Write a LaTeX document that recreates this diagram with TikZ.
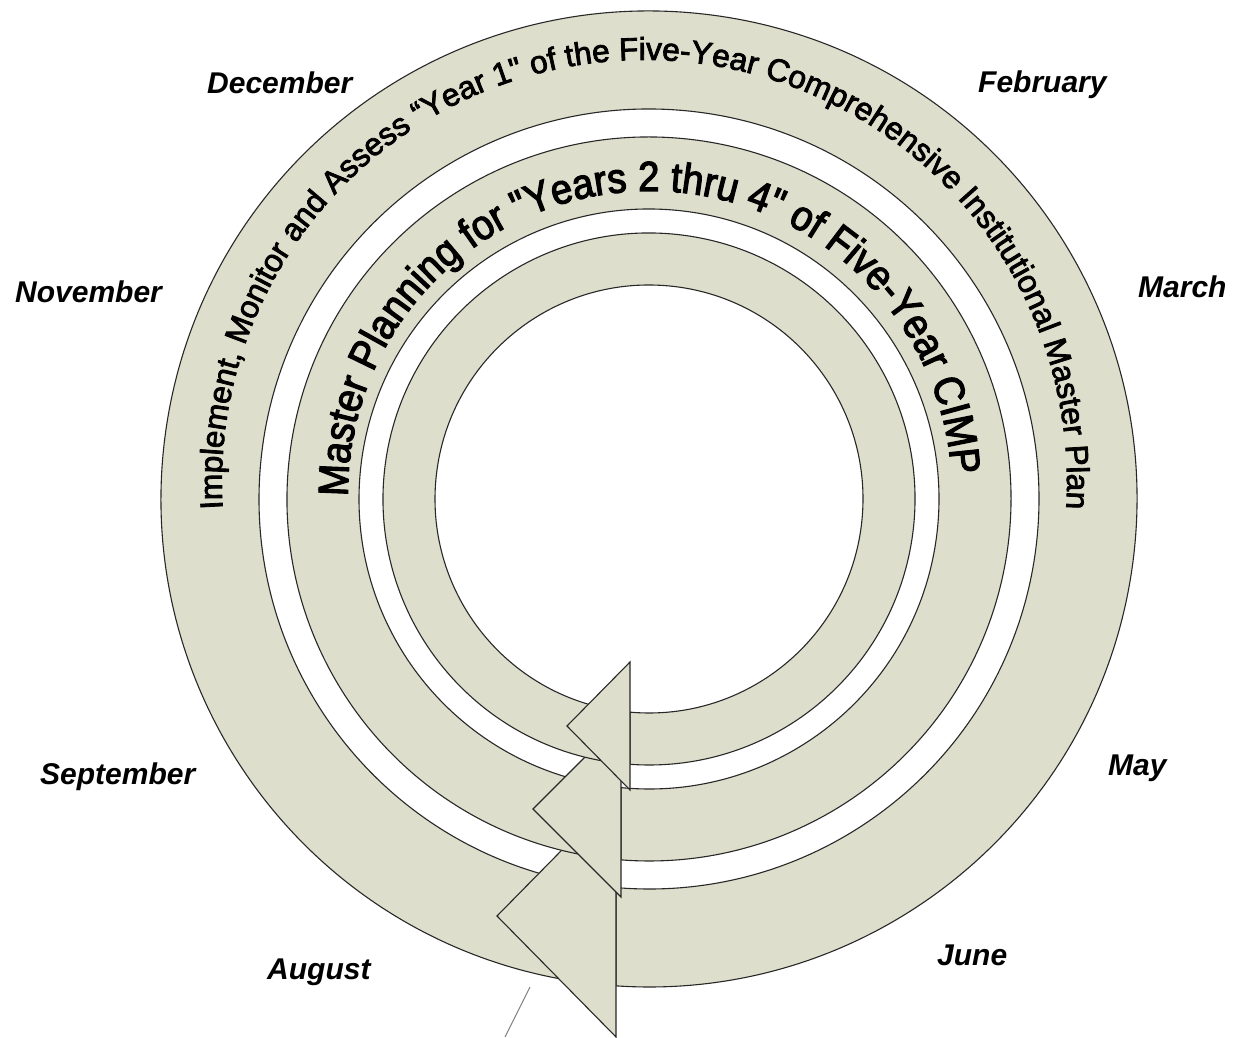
\documentclass[tikz,border=0pt]{standalone}
\usepackage{fontspec}
\setmainfont{Liberation Sans}
\newfontfamily\ringfam{Liberation Sans}[FakeBold=2.5]
\newfontfamily\ringfamnarrow{Liberation Sans}[FakeBold=2.8, FakeStretch=0.91]
\usetikzlibrary{decorations.text}
\definecolor{ringfill}{RGB}{221,222,203}
\definecolor{ringline}{RGB}{40,40,40}
\newcommand\ringtextA{\ringfam\fontsize{31.7}{38}\selectfont}
\newcommand\ringtextB{\ringfamnarrow\fontsize{42}{50}\selectfont}
\begin{document}
\begin{tikzpicture}[x=1pt,y=1pt,
  ringbody/.style={fill=ringfill, draw=ringline, line width=1.1pt},
  arrowhead/.style={fill=ringfill, draw=ringline, line width=1.1pt, line join=miter},
  month/.style={font=\fontsize{30}{36}\selectfont\bfseries\itshape, anchor=base west, inner sep=0pt},
  ]
\useasboundingbox (0,0) rectangle (1234,1038);
\begin{scope}[shift={(649,539)}]
  % outer ring arrow
  \path[ringbody] (262:488) arc[start angle=262, end angle=-93.88, radius=488]
     -- (-94.85:390) arc[start angle=-94.85, end angle=262, radius=390] -- cycle;
  \path[arrowhead] (-33,-296) -- (-152,-417) -- (-33,-538) -- cycle;
  % middle ring arrow
  \path[ringbody] (262:362) arc[start angle=262, end angle=-94.44, radius=362]
     -- (-95.54:290) arc[start angle=-95.54, end angle=262, radius=290] -- cycle;
  \path[arrowhead] (-28,-222) -- (-116,-310) -- (-28,-398) -- cycle;
  % inner ring arrow
  \path[ringbody] (262:266) arc[start angle=262, end angle=-94.10, radius=266]
     -- (-95.09:214) arc[start angle=-95.09, end angle=262, radius=214] -- cycle;
  \path[arrowhead] (-19,-163) -- (-82,-227) -- (-19,-291) -- cycle;
  % curved texts
  \begin{scope}[shift={(-4.5,16.5)}]
    \path[decorate, decoration={text along path, text align=center,
      text={|\ringtextA|Implement, Monitor and Assess “Year 1" of the Five-Year Comprehensive Institutional Master Plan}}]
      (200:422.5) arc[start angle=200, end angle=-20, radius=422.5];
  \end{scope}
  \begin{scope}[shift={(1,6)}]
    \path[decorate, decoration={text along path, text align=center,
      text={|\ringtextB|Master Planning for "Years 2 thru 4" of Five-Year CIMP}}]
      (212.1:302) arc[start angle=212.1, end angle=-28, radius=302];
  \end{scope}
\end{scope}
% month labels
\node[month] (dec) at (207,944) {December};
\node[month] (feb) at (978,945) {February};
\node[month] (nov) at (15,735) {November};
\node[month] (mar) at (1138,740) {March};
\node[month] (sep) at (40,253) {September};
\node[month] (aug) at (267,58) {August};
\node[month] (may) at (1108,262) {May};
\node[month] (jun) at (937,72) {June};
% stray connector stub
\coordinate (stubA) at (530,51);
\coordinate (stubB) at (505,1);
\draw[gray, line width=1pt] (stubA) -- (stubB);
\end{tikzpicture}
\end{document}
